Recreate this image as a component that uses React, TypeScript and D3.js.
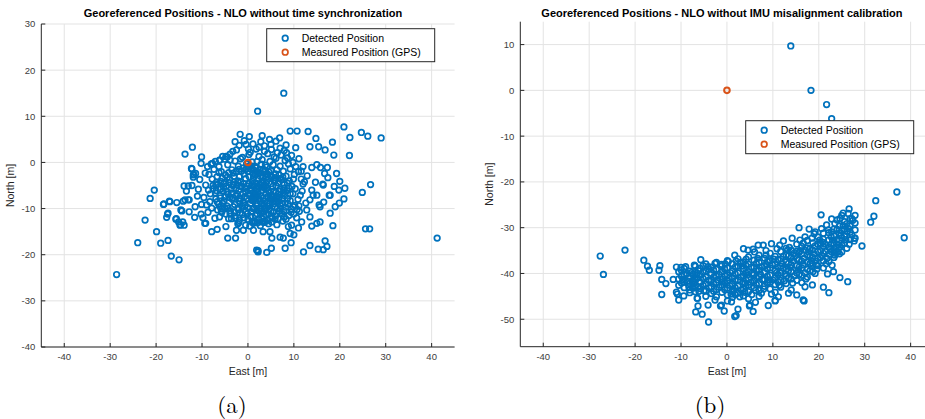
import React from "react";
import * as d3 from "d3";

// ---------- data ----------
const xTicks = [-40, -30, -20, -10, 0, 10, 20, 30, 40];
const yTicksA = [-40, -30, -20, -10, 0, 10, 20, 30];
const yTicksB = [-50, -40, -30, -20, -10, 0, 10];

const titleA = "Georeferenced Positions - NLO without time synchronization";
const titleB = "Georeferenced Positions - NLO without IMU misalignment calibration";
const legendLabels = ["Detected Position", "Measured Position (GPS)"];

const gpsA: [number, number][] = [[0, 0]];
const gpsB: [number, number][] = [[0, 0]];

const detectedA: [number, number][] = [
  // core
  [-2.5,2.7],[0.5,2.2],[1.8,2.9],[3.6,2.4],[5.1,2.8],[6.4,2.1],[7.9,2.6],
  [-5.5,1.3],[-3.9,1.8],[-1.2,1.1],[0.2,1.7],[2.4,1.3],[4.3,1.9],[5.7,1.2],[7.2,1.6],[8.6,1.0],
  [-7.1,0.2],[-5.0,0.7],[-2.8,0.3],[-1.6,0.8],[0.9,0.1],[3.1,0.6],[4.8,0.2],[6.1,0.9],[8.1,0.4],[9.8,0.0],
  [-8.0,-0.4],[-6.3,-0.9],[-4.4,-0.5],[-2.1,-0.8],[-0.3,-0.3],[1.6,-0.9],[2.9,-0.4],[4.1,-1.0],[5.5,-0.5],[7.0,-0.8],[8.8,-0.3],[10.4,-0.9],
  [-7.4,-1.5],[-5.8,-2.0],[-3.5,-1.6],[-1.4,-1.9],[0.6,-1.4],[1.9,-2.0],[3.4,-1.5],[4.6,-2.1],[6.3,-1.6],[7.7,-1.9],[9.2,-1.4],[11.0,-2.0],
  [-8.5,-2.6],[-6.7,-3.1],[-4.9,-2.7],[-3.0,-3.0],[-0.8,-2.5],[0.3,-3.1],[1.5,-2.6],[2.7,-3.0],[3.9,-2.5],[5.2,-3.1],[6.8,-2.7],[8.3,-3.0],[10.1,-2.6],
  [-7.8,-3.6],[-5.9,-4.1],[-4.0,-3.7],[-2.2,-4.0],[-0.5,-3.5],[1.0,-4.1],[2.2,-3.6],[3.3,-4.0],[4.5,-3.5],[5.8,-4.1],[7.3,-3.7],[9.0,-4.0],[11.6,-3.6],
  [-6.6,-4.7],[-4.7,-5.1],[-3.1,-4.8],[-1.5,-5.2],[0.2,-4.6],[1.4,-5.1],[2.6,-4.7],[3.8,-5.2],[5.0,-4.6],[6.2,-5.1],[7.9,-4.8],[9.6,-5.2],[12.0,-4.7],
  [-7.6,-5.7],[-5.4,-6.2],[-3.7,-5.8],[-2.0,-6.1],[-0.7,-5.6],[0.7,-6.2],[1.9,-5.7],[3.1,-6.1],[4.2,-5.6],[5.6,-6.2],[7.0,-5.8],[8.5,-6.1],[10.3,-5.7],
  [-8.2,-6.8],[-6.1,-7.2],[-4.3,-6.9],[-2.6,-7.3],[-1.1,-6.7],[0.4,-7.2],[1.6,-6.8],[2.8,-7.3],[3.9,-6.7],[5.3,-7.2],[6.6,-6.9],[8.0,-7.2],[9.8,-6.8],[11.4,-7.1],
  [-7.0,-7.9],[-5.2,-8.3],[-3.4,-8.0],[-1.8,-8.4],[-0.2,-7.8],[1.2,-8.3],[2.4,-7.9],[3.6,-8.4],[4.9,-7.8],[6.1,-8.3],[7.5,-7.9],[9.2,-8.3],[10.9,-8.0],
  [-6.4,-9.0],[-4.6,-9.4],[-2.9,-9.1],[-1.3,-9.5],[0.5,-8.9],[1.8,-9.4],[3.0,-9.0],[4.3,-9.5],[5.7,-8.9],[7.1,-9.4],[8.7,-9.0],[10.2,-9.3],
  [-5.6,-10.1],[-3.8,-10.5],[-2.1,-10.2],[-0.4,-10.6],[1.1,-10.0],[2.5,-10.5],[3.7,-10.1],[5.0,-10.6],[6.4,-10.0],[7.8,-10.4],[9.5,-10.1],
  [-4.8,-11.2],[-2.9,-11.6],[-1.2,-11.3],[0.6,-11.7],[2.0,-11.1],[3.4,-11.6],[4.6,-11.2],[6.0,-11.6],[7.4,-11.1],[8.9,-11.5],
  [-3.6,-12.2],[-1.9,-12.6],[0.0,-12.3],[1.5,-12.7],[3.0,-12.2],[4.4,-12.6],[5.9,-12.3],[7.6,-12.7],
  [-2.2,-13.3],[-0.5,-13.6],[1.2,-13.2],[2.7,-13.7],[4.5,-13.3],[6.3,-13.5],
  [0.0,-2.0],[1.2,-3.3],[2.3,-2.2],[3.0,-4.4],[4.0,-3.2],[1.8,-4.5],[0.6,-5.5],[2.2,-6.5],[3.5,-5.5],[4.7,-6.5],
  [1.0,-7.5],[2.0,-8.8],[3.3,-7.7],[4.2,-8.9],[5.4,-8.0],[0.0,-9.8],[1.4,-9.9],[2.8,-10.0],[4.0,-9.9],[-1.0,-8.8],
  [-0.5,-6.4],[-1.6,-4.3],[-2.6,-5.6],[-3.3,-7.6],[-2.0,-9.9],[5.9,-3.3],[6.6,-4.4],[6.8,-6.3],[6.3,-7.6],[7.4,-8.8],[6.8,-10.6],
  [0.8,-0.8],[2.0,0.2],[3.8,-0.6],[-1.0,-1.2],[-2.6,-2.0],[-4.2,-2.2],[5.0,-1.8],[6.0,-2.5],[7.6,-3.2],[8.6,-4.5],
  [9.2,-6.8],[8.1,-8.8],[9.4,-10.8],[7.9,-11.8],[5.2,-11.9],[3.8,-12.8],[2.3,-12.3],[0.9,-12.9],[-0.8,-12.0],[-2.7,-12.1],
  [-3.9,-11.1],[-4.4,-9.9],[-5.5,-8.9],[-6.0,-7.7],[-6.9,-6.1],[-5.3,-5.4],[-4.1,-4.4],[-3.3,-5.0],[-2.3,-6.9],[-1.6,-8.0],
  [-0.6,-9.3],[0.7,-10.7],[2.0,-10.3],[3.3,-10.8],[4.6,-10.2],[5.9,-9.6],[6.6,-8.5],[5.0,-7.3],[4.4,-6.1],[3.6,-4.8],
  [2.1,-5.3],[0.9,-4.8],[-0.2,-5.1],[0.3,-6.9],[1.5,-7.8],[2.7,-8.4],[3.5,-9.4],[4.8,-9.0],[1.1,-2.4],[2.6,-1.5],
  [4.4,-2.6],[3.2,-3.2],[-0.4,-1.4],[-1.9,-3.1],[-3.0,-4.3],[-4.6,-6.3],[-5.6,-3.4],[-6.3,-2.2],[-7.0,-4.9],[-6.0,-9.7],
  [-4.0,-7.6],[-3.0,-10.8],
  [-0.1,-1.0],[1.3,-1.7],[2.8,-2.3],[4.9,-2.9],[5.7,-3.8],[6.9,-3.5],[7.8,-5.6],[8.9,-5.5],[8.6,-7.8],[7.7,-6.5],
  [6.1,-6.5],[5.4,-5.2],[4.1,-4.2],[2.9,-5.3],[1.7,-6.1],[0.4,-6.0],[-0.9,-4.6],[-2.3,-4.9],[-3.6,-6.6],[-4.9,-7.5],
  [-5.1,-9.8],[-3.2,-9.6],[-1.7,-10.9],[-0.1,-11.1],[1.6,-11.5],[3.9,-11.3],[5.5,-10.8],[7.0,-10.1],[8.2,-9.7],[9.9,-9.6],
  [3.1,-8.8],[1.9,-7.2],[0.8,-8.2],[-0.7,-7.4],[-2.0,-7.8],[4.3,-7.4],[5.6,-8.5],[6.7,-7.9],[7.9,-6.0],[3.8,-1.8],
  [1.8,-1.2],[0.2,-0.8],[-1.9,-1.5],[-3.2,-2.3],[-4.5,-3.2],[-5.2,-4.6],[-6.0,-5.8],[-7.1,-6.6],[-6.7,-8.5],[-5.8,-10.6],
  [-4.2,-12.2],[-2.0,-13.0],[0.4,-13.8],[2.0,-13.1],[3.5,-13.0],[5.2,-12.9],[6.6,-12.2],[8.3,-12.3],[10.0,-11.2],[10.7,-10.2],
  // surroundings
  [-28.6,-24.3],[-24.0,-17.4],[-22.4,-12.5],[-21.3,-7.8],[-20.4,-6.0],[-19.9,-15.0],[-19.0,-17.5],[-17.4,-16.9],
  [-16.7,-20.3],[-15.0,-21.1],[-18.3,-9.0],[-17.5,-11.2],[-17.7,-11.9],[-17.1,-8.4],[-15.5,-8.7],[-15.6,-12.2],
  [-15.1,-12.9],[-14.7,-13.5],[-14.4,-10.5],[-13.7,-8.1],[-13.0,-8.1],[-13.7,1.8],[-12.1,3.3],[-13.9,-5.1],
  [-13.0,-5.1],[-12.2,-5.0],[-13.4,-6.2],[-12.2,-1.4],[-11.8,-2.6],[-11.9,-3.2],[-11.4,-2.4],[-10.8,-5.8],
  [-10.1,1.2],[-10.2,-0.2],[-9.2,-13.2],[-7.9,-15.0],[-6.7,-14.5],[-4.8,-13.9],[-4.4,-16.4],[-2.7,-16.4],
  [-2.5,-14.7],[-1.0,-14.7],[1.2,-14.7],[1.9,-19.0],[2.2,-19.4],[4.1,-19.5],[5.1,-18.6],
  [-1.7,6.1],[-2.8,4.5],[-0.8,4.7],[-1.9,3.7],[0.1,2.9],[2.8,4.5],[2.4,3.3],[-3.3,2.4],[-4.8,1.3],[-6.1,0.5],
  [-7.7,-0.2],[-8.8,-0.9],
  [2.1,11.1],[7.8,15.0],[9.2,6.8],[10.7,6.8],[13.1,6.7],[20.9,7.7],[24.7,6.5],[26.1,5.7],[29.0,5.3],[22.2,5.4],
  [14.8,5.2],[18.4,4.4],[13.5,3.4],[15.4,3.4],[16.8,2.7],[18.7,1.6],[22.1,1.5],[10.4,3.2],[9.5,1.5],[11.1,0.8],
  [26.7,-4.8],[24.9,-6.5],[20.9,-7.9],[21.1,-5.6],[20.0,-4.1],[19.8,-6.0],[19.3,-2.4],[17.3,-1.1],[15.8,-1.1],
  [15.0,-0.5],[13.9,-1.1],[12.0,-0.9],[11.6,-1.9],[16.7,-2.4],[16.3,-4.7],
  [17.9,-7.1],[17.9,-11.0],[18.5,-13.7],[15.7,-12.9],[13.9,-13.8],[13.5,-11.8],[25.6,-14.4],[26.5,-14.4],[41.2,-16.4],
  [16.8,-17.0],[17.2,-18.2],[16.4,-18.9],[15.3,-18.8],[13.5,-18.0],[12.1,-19.4],[8.1,-18.6],[7.0,-16.2],
  [2.2,-19.1],[9.4,-17.4],[10.0,-15.7],[9.2,-15.4],[8.8,-13.9],[9.5,-13.6],[7.7,-16.4],[4.8,-15.0],
  [5.2,-16.4],[3.3,-15.0],[3.0,-12.9],[1.5,-12.9],
  [12.8,-10.3],[13.5,-8.1],[13.9,-6.0],[14.7,-4.3],[16.4,-4.9],[15.0,-7.1],[16.5,-8.6],[15.7,-9.6],[14.2,-7.1],
  [17.7,-7.1],[15.5,-9.2],[15.0,-13.2],[11.7,-12.9],[11.0,-14.2],
  [-18.4,-9.1],[-17.0,-8.5],[-14.1,-8.4],[-12.8,-8.1],[-17.4,-11.0],[-15.7,-12.3],[-14.2,-12.9],[-14.8,-13.6],
  [-13.9,-13.6],[-12.8,-10.7],[-14.6,-10.3],[-11.5,-9.6],[-10.1,-9.1],[-9.0,-9.2],[-8.3,-8.5],[-7.9,-9.9],
  [-9.4,-13.2],[-7.2,-12.1],[-6.2,-11.8],[-5.7,-10.8],[-6.6,-10.3],
  [-12.3,-1.3],[-11.9,-2.7],[-9.2,-4.9],[-8.6,-6.0],[-7.6,-5.0],[-6.8,-4.3],[-7.9,-0.3],[-6.2,0.5],[-4.5,1.2],[-3.9,0.5],
  [-11.0,-7.3],[-10.2,-11.2],[-9.6,-7.6],[-11.6,-11.9],[-10.5,-3.7],[-9.3,-2.3],[-8.7,-10.8],[-9.8,-12.0],
  [11.8,-6.2],[12.6,-8.8],[11.2,-10.6],[12.3,-4.2],[10.6,-12.0],[12.9,-2.9],[9.9,-3.6],[11.1,-9.4],
  [19.0,-9.6],[18.8,-5.2],[17.4,-3.3],[19.9,-8.8],
  [3.6,3.6],[5.0,3.9],[6.1,4.6],[7.0,3.1],[8.3,3.8],[4.7,5.0],[1.1,4.0],[0.3,5.6],[-0.4,3.9],[3.1,5.8],[6.9,5.3],[8.4,2.1],
];

const detectedB: [number, number][] = [
  // band core
  [-10.5,-39.6],[-10.5,-41.2],[-10.5,-42.6],
  [-9.3,-38.9],[-9.3,-40.3],[-9.3,-41.8],[-9.3,-43.1],
  [-8.1,-39.5],[-8.1,-40.9],[-8.1,-42.2],[-8.1,-43.6],
  [-6.9,-38.4],[-6.9,-39.8],[-6.9,-41.3],[-6.9,-42.7],[-6.9,-44.0],
  [-5.8,-38.9],[-5.8,-40.4],[-5.8,-41.9],[-5.8,-43.3],
  [-4.6,-37.9],[-4.6,-39.4],[-4.6,-40.8],[-4.6,-42.3],[-4.6,-43.8],[-4.6,-45.0],
  [-3.4,-38.6],[-3.4,-40.0],[-3.4,-41.5],[-3.4,-42.9],[-3.4,-44.4],
  [-2.3,-37.6],[-2.3,-39.1],[-2.3,-40.6],[-2.3,-42.0],[-2.3,-43.5],[-2.3,-45.1],
  [-1.1,-38.3],[-1.1,-39.7],[-1.1,-41.2],[-1.1,-42.6],[-1.1,-44.1],
  [0.1,-37.2],[0.1,-38.8],[0.1,-40.3],[0.1,-41.7],[0.1,-43.2],[0.1,-44.7],[0.1,-46.0],
  [1.2,-37.9],[1.2,-39.4],[1.2,-40.9],[1.2,-42.3],[1.2,-43.8],[1.2,-45.2],
  [2.4,-36.8],[2.4,-38.4],[2.4,-39.9],[2.4,-41.4],[2.4,-42.8],[2.4,-44.3],
  [3.6,-37.5],[3.6,-39.0],[3.6,-40.5],[3.6,-42.0],[3.6,-43.4],[3.6,-44.9],
  [4.7,-36.4],[4.7,-38.0],[4.7,-39.6],[4.7,-41.1],[4.7,-42.5],[4.7,-44.0],[4.7,-45.5],
  [5.9,-37.1],[5.9,-38.7],[5.9,-40.2],[5.9,-41.6],[5.9,-43.1],
  [7.0,-36.0],[7.0,-37.6],[7.0,-39.2],[7.0,-40.7],[7.0,-42.2],[7.0,-43.7],[7.0,-45.0],
  [8.2,-36.7],[8.2,-38.3],[8.2,-39.8],[8.2,-41.3],[8.2,-42.8],
  [9.4,-35.6],[9.4,-37.2],[9.4,-38.8],[9.4,-40.4],[9.4,-41.9],[9.4,-43.4],
  [10.5,-36.3],[10.5,-37.9],[10.5,-39.4],[10.5,-40.9],[10.5,-42.4],[10.5,-44.1],
  [11.7,-35.2],[11.7,-36.8],[11.7,-38.4],[11.7,-39.9],[11.7,-41.5],[11.7,-43.0],
  [12.9,-34.5],[12.9,-35.9],[12.9,-37.5],[12.9,-39.1],[12.9,-40.6],[12.9,-42.2],
  [14.0,-34.9],[14.0,-36.5],[14.0,-38.1],[14.0,-39.6],[14.0,-41.2],[14.0,-43.6],
  [15.2,-33.6],[15.2,-35.2],[15.2,-36.8],[15.2,-38.3],[15.2,-39.9],[15.2,-41.5],
  [16.3,-34.1],[16.3,-35.7],[16.3,-37.3],[16.3,-38.8],[16.3,-40.4],[16.3,-42.0],
  [17.5,-32.8],[17.5,-34.4],[17.5,-36.0],[17.5,-37.5],[17.5,-39.1],[17.5,-40.8],
  [18.7,-33.3],[18.7,-34.9],[18.7,-36.5],[18.7,-38.0],[18.7,-39.6],
  [19.8,-32.0],[19.8,-33.6],[19.8,-35.2],[19.8,-36.7],[19.8,-38.3],
  [21.0,-32.5],[21.0,-34.1],[21.0,-35.6],[21.0,-37.2],[21.0,-38.8],
  [22.2,-31.1],[22.2,-32.7],[22.2,-34.3],[22.2,-35.8],[22.2,-37.4],
  [23.3,-30.3],[23.3,-31.8],[23.3,-33.4],[23.3,-35.0],[23.3,-36.5],
  [24.5,-29.6],[24.5,-31.2],[24.5,-32.7],[24.5,-34.3],[24.5,-35.7],
  [25.6,-28.7],[25.6,-30.3],[25.6,-31.9],[25.6,-33.4],
  [26.8,-28.1],[26.8,-29.6],[26.8,-31.0],[26.8,-32.6],
  [27.9,-27.3],[27.9,-29.0],[27.9,-30.5],
  [-9.9,-40.6],[-9.9,-42.1],[-7.5,-40.2],[-7.5,-41.6],[-7.5,-43.0],[-5.2,-39.7],[-5.2,-41.1],[-5.2,-42.6],
  [-2.9,-39.3],[-2.9,-40.8],[-2.9,-42.2],[-2.9,-43.9],[-0.5,-39.0],[-0.5,-40.5],[-0.5,-42.0],[-0.5,-43.5],
  [1.8,-38.6],[1.8,-40.1],[1.8,-41.6],[1.8,-43.1],[1.8,-44.6],[4.1,-38.2],[4.1,-39.8],[4.1,-41.3],[4.1,-42.8],
  [6.4,-37.8],[6.4,-39.4],[6.4,-40.9],[6.4,-42.4],[8.8,-37.4],[8.8,-39.0],[8.8,-40.6],[8.8,-42.1],
  [11.1,-37.0],[11.1,-38.6],[11.1,-40.2],[11.1,-41.8],[13.4,-36.2],[13.4,-37.8],[13.4,-39.4],[13.4,-41.0],
  [15.7,-35.4],[15.7,-37.0],[15.7,-38.6],[15.7,-40.2],[18.1,-34.6],[18.1,-36.2],[18.1,-37.8],[18.1,-39.4],
  [20.4,-33.4],[20.4,-35.0],[20.4,-36.5],[22.7,-32.0],[22.7,-33.6],[22.7,-35.2],[25.0,-30.6],[25.0,-32.2],[25.0,-33.8],
  [6.0,-35.3],[8.5,-35.0],[10.9,-34.6],
  [-10.0,-39.2],[-8.7,-40.0],[-8.6,-41.6],[-7.2,-42.2],[-6.2,-39.4],[-6.1,-43.9],[-4.0,-41.5],[-3.9,-43.1],
  [-1.7,-40.2],[-1.7,-43.0],[-0.4,-37.9],[0.7,-39.8],[0.6,-42.6],[0.9,-44.5],[2.9,-37.6],[3.0,-40.8],
  [3.1,-43.6],[4.2,-36.9],[5.3,-38.6],[5.2,-41.9],[5.4,-44.6],[7.6,-38.5],[7.7,-41.4],[7.5,-44.3],
  [8.5,-36.0],[9.9,-38.1],[10.0,-41.4],[9.7,-44.5],[12.3,-36.3],[12.2,-38.8],[12.5,-41.6],[14.6,-35.6],
  [14.5,-37.3],[14.7,-40.5],[16.9,-34.9],[16.8,-36.7],[17.0,-39.9],[19.2,-34.0],[19.3,-37.3],[20.9,-33.2],
  [21.5,-35.2],[21.6,-37.9],[23.9,-32.6],[23.8,-34.2],[26.2,-30.7],[26.1,-29.1],[27.4,-28.4],[24.0,-30.4],
  [22.8,-30.9],[19.0,-31.3],[16.6,-33.4],[13.6,-34.3],[11.5,-33.8],
  [-9.6,-41.3],[-8.3,-42.9],[-6.4,-41.0],[-5.0,-43.8],[-3.9,-39.1],[-2.0,-41.4],[-0.8,-41.8],[0.5,-41.0],
  [1.5,-43.7],[2.0,-37.3],[3.3,-38.4],[3.9,-44.1],[4.5,-40.3],[5.5,-39.9],[6.2,-43.7],[6.7,-36.7],
  [7.3,-40.1],[8.0,-43.4],[8.6,-38.1],[9.1,-41.4],[10.2,-36.9],[10.8,-39.8],[11.4,-42.6],[12.0,-37.9],
  [12.6,-40.1],[13.2,-34.9],[13.8,-38.7],[14.3,-42.1],[14.9,-36.1],[15.5,-39.2],[16.0,-35.0],[16.6,-38.1],
  [17.2,-41.2],[17.8,-35.3],[18.4,-37.2],[19.0,-35.7],[19.6,-39.0],[20.2,-32.7],[20.7,-36.1],[21.3,-33.6],
  [21.8,-36.7],[22.5,-34.7],[23.0,-32.7],[23.6,-35.6],[24.2,-33.7],[24.8,-31.7],[25.3,-29.5],[25.9,-32.6],
  [26.5,-30.2],[27.2,-31.6],
  // surroundings
  [13.9,9.7],[18.3,0.0],[21.7,-3.1],[22.8,-6.2],
  [37.0,-22.2],[32.4,-24.1],[32.0,-27.5],[31.3,-28.8],[38.6,-32.2],[29.4,-34.0],[27.8,-32.3],
  [26.6,-25.9],[25.3,-26.8],[27.2,-28.0],[24.6,-28.0],[20.5,-27.2],[22.8,-28.1],[24.0,-28.3],[21.7,-29.4],
  [23.5,-29.1],[25.0,-27.3],[26.4,-26.9],
  [15.7,-30.0],[17.9,-30.3],[19.2,-30.9],[20.6,-30.2],[21.0,-31.2],[22.1,-30.5],
  [12.3,-32.9],[14.2,-32.3],[15.9,-32.7],[17.0,-32.0],[18.5,-32.3],[9.7,-33.5],[7.9,-33.8],[6.8,-33.8],
  [5.7,-34.7],[4.6,-34.9],[3.6,-34.6],[1.7,-36.0],
  [27.9,-32.3],[26.6,-33.6],[27.7,-32.9],[26.1,-34.5],[24.2,-35.3],[23.5,-36.0],[25.0,-35.3],[22.9,-38.2],
  [23.2,-39.6],[21.9,-40.1],[21.0,-43.0],[22.2,-44.2],[24.6,-40.9],[26.3,-41.8],
  [19.2,-40.0],[19.5,-38.2],[18.6,-42.5],[17.0,-42.9],[16.6,-45.8],[15.2,-44.7],[13.4,-44.3],[11.2,-45.1],
  [10.5,-45.9],[9.0,-47.0],[5.0,-46.9],[5.7,-48.3],[6.2,-46.3],[3.9,-42.2],[2.8,-45.1],[2.4,-47.8],[2.0,-49.2],
  [-27.6,-36.2],[-26.9,-40.2],[-22.2,-34.9],[-18.1,-37.1],[-17.3,-38.4],[-16.9,-39.3],[-14.6,-38.3],[-14.8,-39.3],
  [-14.2,-41.3],[-13.3,-42.2],[-14.2,-44.6],[-11.7,-41.3],
  [-11.0,-44.1],[-10.5,-45.8],[-10.8,-44.5],[-9.4,-44.9],[-8.1,-44.2],[-6.8,-48.4],[-6.4,-45.4],[-6.3,-47.1],
  [-5.4,-48.9],[-4.0,-50.6],
  [-11.0,-38.6],[-10.0,-38.7],[-9.0,-38.5],[-7.1,-38.2],[-5.7,-37.0],[-5.2,-38.3],[-4.1,-38.5],[-2.6,-37.8],
  [-1.2,-38.0],[0.3,-37.4],
  [-1.4,-47.1],[-0.6,-48.2],[1.0,-46.2],[1.7,-49.4],[4.9,-47.1],[10.5,-46.0],[16.8,-46.0],[-2.6,-45.8],
  [-1.2,-46.9],[-4.1,-46.9],[-6.6,-40.3],[-7.7,-39.8],[-7.0,-41.8],[-7.3,-43.2],[-6.3,-42.9],[-6.5,-45.4],
];

// ---------- styling ----------
const BLUE = "#0072BD";
const RED = "#D95319";
const AX = "#262626";
const GRID = "#e3e3e3";
const FONT = "'Liberation Sans', Arial, Helvetica, sans-serif";

type PanelProps = {
  title: string;
  caption: string;
  yTicks: number[];
  yDomain: [number, number];
  left: number;
  right: number;
  top: number;
  bottom: number;
  detected: [number, number][];
  gps: [number, number][];
  legendX: number;
  legendY: number;
  captionX: number;
};

function Panel(p: PanelProps) {
  const x = d3.scaleLinear().domain([-45, 45]).range([p.left, p.right]);
  const y = d3.scaleLinear().domain(p.yDomain).range([p.bottom, p.top]);
  const midX = x(0);
  const midY = (p.top + p.bottom) / 2;
  const lw = 168;
  const lh = 33;
  const R = 2.8;
  return (
    <g>
      {xTicks.map((t) => (
        <line key={"gx" + t} x1={x(t)} x2={x(t)} y1={p.top} y2={p.bottom} stroke={GRID} strokeWidth={1} />
      ))}
      {p.yTicks.map((t) => (
        <line key={"gy" + t} x1={p.left} x2={p.right} y1={y(t)} y2={y(t)} stroke={GRID} strokeWidth={1} />
      ))}
      <line x1={p.left} x2={p.right} y1={p.bottom} y2={p.bottom} stroke={AX} strokeWidth={1} />
      <line x1={p.left} x2={p.left} y1={p.top} y2={p.bottom} stroke={AX} strokeWidth={1} />
      {xTicks.map((t) => (
        <g key={"tx" + t}>
          <line x1={x(t)} x2={x(t)} y1={p.bottom} y2={p.bottom - 4} stroke={AX} strokeWidth={1} />
          <text x={x(t)} y={p.bottom + 13} textAnchor="middle" fontSize={9.5} fill="#404040" fontFamily={FONT}>
            {t}
          </text>
        </g>
      ))}
      {p.yTicks.map((t) => (
        <g key={"ty" + t}>
          <line x1={p.left} x2={p.left + 4} y1={y(t)} y2={y(t)} stroke={AX} strokeWidth={1} />
          <text x={p.left - 6} y={y(t) + 3.4} textAnchor="end" fontSize={9.5} fill="#404040" fontFamily={FONT}>
            {t}
          </text>
        </g>
      ))}
      <text x={midX} y={375} textAnchor="middle" fontSize={10.5} fill={AX} fontFamily={FONT}>
        East [m]
      </text>
      <text
        transform={`translate(${p.left - 27},${midY}) rotate(-90)`}
        textAnchor="middle"
        fontSize={10.5}
        fill={AX}
        fontFamily={FONT}
      >
        North [m]
      </text>
      <text x={midX - 5} y={17} textAnchor="middle" fontSize={11} fontWeight="bold" fill="#000" fontFamily={FONT}>
        {p.title}
      </text>
      {p.detected.map((d, i) => (
        <circle key={"d" + i} cx={x(d[0])} cy={y(d[1])} r={R} fill="none" stroke={BLUE} strokeWidth={1.7} />
      ))}
      {p.gps.map((d, i) => (
        <circle key={"g" + i} cx={x(d[0])} cy={y(d[1])} r={R} fill="none" stroke={RED} strokeWidth={2} />
      ))}
      <g>
        <rect x={p.legendX} y={p.legendY} width={lw} height={lh} fill="#fff" stroke={AX} strokeWidth={1} />
        <circle cx={p.legendX + 18.5} cy={p.legendY + 9.5} r={R} fill="none" stroke={BLUE} strokeWidth={1.7} />
        <circle cx={p.legendX + 18.5} cy={p.legendY + 23.5} r={R} fill="none" stroke={RED} strokeWidth={1.7} />
        <text x={p.legendX + 35} y={p.legendY + 13.3} fontSize={10.5} fill="#000" fontFamily={FONT}>
          {legendLabels[0]}
        </text>
        <text x={p.legendX + 35} y={p.legendY + 27.3} fontSize={10.5} fill="#000" fontFamily={FONT}>
          {legendLabels[1]}
        </text>
      </g>
      <text x={p.captionX} y={413} textAnchor="middle" fontSize={23} fill="#000" fontFamily="'Latin Modern Roman','DejaVu Serif','Liberation Serif',serif">
        {p.caption}
      </text>
    </g>
  );
}

export default function App() {
  return (
    <svg width={925} height={419} style={{ position: "absolute", left: 0, top: 0, background: "#fff" }}>
      <rect x={0} y={0} width={925} height={419} fill="#fff" />
      <Panel
        title={titleA}
        caption="(a)"
        yTicks={yTicksA}
        yDomain={[-40, 30]}
        left={41.3}
        right={454.6}
        top={24}
        bottom={347}
        detected={detectedA}
        gps={gpsA}
        legendX={266.7}
        legendY={28.7}
        captionX={232}
      />
      <Panel
        title={titleB}
        caption="(b)"
        yTicks={yTicksB}
        yDomain={[-56, 15]}
        left={520.3}
        right={933.6}
        top={21.7}
        bottom={346.7}
        detected={detectedB}
        gps={gpsB}
        legendX={745.7}
        legendY={120.7}
        captionX={710}
      />
    </svg>
  );
}
